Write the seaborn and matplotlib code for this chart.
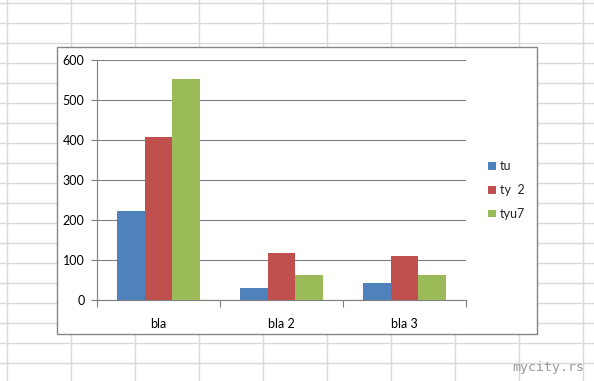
import numpy as np
import pandas as pd
import matplotlib
matplotlib.use("Agg")
import matplotlib.pyplot as plt
from matplotlib.lines import Line2D
from matplotlib.patches import Rectangle
import seaborn as sns

categories = ["bla", "bla 2", "bla 3"]
series_names = ["tu", "ty  2", "tyu7"]
tu = [222, 31, 43]
ty2 = [408, 118, 111]
tyu7 = [552, 63, 63]
y_ticks = [0, 100, 200, 300, 400, 500, 600]
colors = ["#4F81BD", "#C0504D", "#9BBB59"]

rows = []
for name, vals in zip(series_names, [tu, ty2, tyu7]):
    for c, v in zip(categories, vals):
        rows.append({"cat": c, "series": name, "val": v})
df = pd.DataFrame(rows)

sns.set_style("white")
plt.rcParams["font.family"] = ["Lato", "DejaVu Sans"]

W, H = 594, 381
fig = plt.figure(figsize=(W / 100, H / 100), dpi=100)
fig.patch.set_facecolor("white")

def fx(x):
    return x / W

def fy(y):
    return 1 - y / H

# spreadsheet grid background
gc = "#D9D9D9"
for k in range(11):
    x = 7 + 64.05 * k
    fig.add_artist(Line2D([fx(x), fx(x)], [0, 1], color=gc, lw=1.0,
                          transform=fig.transFigure, zorder=-3))
for k in range(20):
    y = 2.7 + 20 * k
    fig.add_artist(Line2D([0, 1], [fy(y), fy(y)], color=gc, lw=1.0,
                          transform=fig.transFigure, zorder=-3))

# chart area box
x0, y0, x1, y1 = 56.7, 46.7, 536.7, 333.7
fig.add_artist(Rectangle((fx(x0), fy(y1)), fx(x1) - fx(x0), fy(y0) - fy(y1),
                         facecolor="white", edgecolor="#868686", lw=1.0,
                         transform=fig.transFigure, zorder=-1))

ax = fig.add_axes([fx(97), fy(300), fx(466) - fx(97), fy(60) - fy(300)])
ax.set_facecolor("none")
sns.barplot(data=df, x="cat", y="val", hue="series", palette=colors,
            width=0.667, saturation=1, ax=ax, errorbar=None, zorder=3,
            linewidth=0)

ax.set_xlim(-0.5, 2.5)
ax.set_ylim(0, 600)
ax.set_yticks(y_ticks)
ax.set_yticklabels([str(t) for t in y_ticks])
ax.set_xlabel("")
ax.set_ylabel("")

ax.grid(axis="y", color="#7F7F7F", lw=0.8, zorder=0)
ax.set_axisbelow(True)
for s in ["top", "right"]:
    ax.spines[s].set_visible(False)
for s in ["left", "bottom"]:
    ax.spines[s].set_color("#7F7F7F")
    ax.spines[s].set_linewidth(0.8)

ax.tick_params(axis="y", which="major", length=4, width=0.8, color="#7F7F7F",
               labelsize=9, pad=5, left=True, labelcolor="black")
ax.set_xticks([-0.5, 0.5, 1.5, 2.5], minor=True)
ax.tick_params(axis="x", which="minor", length=5, width=0.8, color="#7F7F7F",
               bottom=True)
ax.tick_params(axis="x", which="major", length=0, labelsize=9, pad=13,
               labelcolor="black")

leg = ax.legend(loc="center left", bbox_to_anchor=(fx(482), fy(190)),
                bbox_transform=fig.transFigure, frameon=False,
                fontsize=9, handlelength=0.6, handleheight=0.6,
                handletextpad=0.35, labelspacing=0.95, borderpad=0)

fig.text(fx(584), fy(368), "mycity.rs", ha="right", va="center",
         family="DejaVu Sans Mono", fontsize=9.5, color="#9A9A9A")

fig.savefig("out.png", dpi=100, facecolor="white")
